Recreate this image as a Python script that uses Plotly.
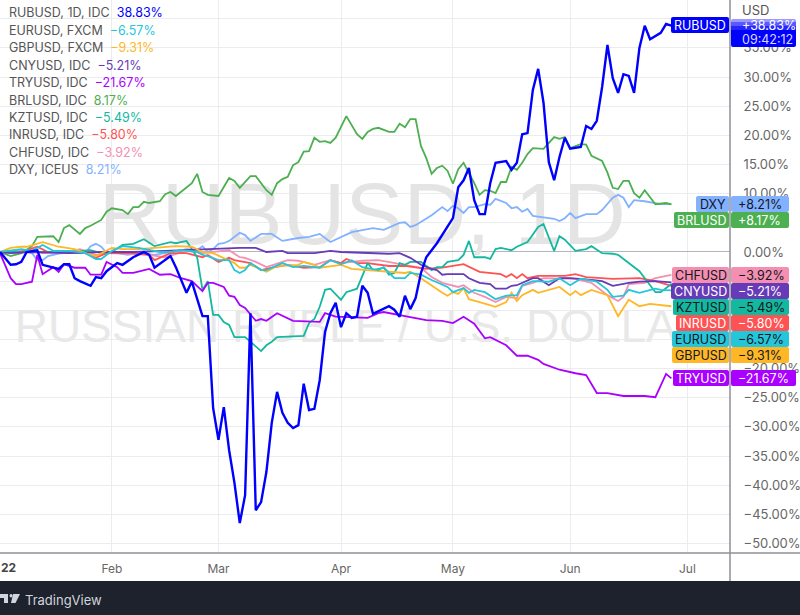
import pandas as pd
import plotly.graph_objects as go

# trading day index -> date (Jan 3 2022 = bar 0)
days = pd.bdate_range("2022-01-03", periods=140)

rub_bars = [0,2,3,4,5,7,8,9,11,12,13,14,15,17,18,19,20,22,23,25,27,28,29,32,33,35,36,38,39,40,41,42,43,44,45,46,47,48,49,50,51,52,53,54,55,56,57,58,59,60,61,62,63,64,65,66,67,68,69,70,73,74,75,76,77,78,79,80,82,85,86,87,88,89,90,91,92,93,95,96,97,98,99,100,101,102,103,104,105,106,107,109,110,111,112,113,114,115,116,117,118,119,120,121,122,124,125,126]
rub_vals = [0,-2.2,-2.1,-1.7,0,0.3,-2.2,-2.4,-2.9,-2.1,-2.1,-4.5,-5.0,-5.8,-4.3,-4.5,-3.3,-1.9,-2.2,-0.9,0,-0.5,-2.7,-0.7,-2.6,-7.0,-5.1,-11.0,-11.0,-26.8,-32.2,-26.6,-34.0,-39.6,-46.5,-41.7,-10.5,-44.3,-42.9,-37.7,-29.3,-24.0,-27.6,-29.3,-30.2,-29.7,-22.6,-27.1,-26.9,-22.0,-13.7,-10.5,-8.7,-12.9,-10.5,-11.3,-11.1,-5.8,-7.0,-10.6,-9.3,-9.9,-11.1,-7.5,-9.8,-7.9,-3.6,-0.9,1.5,5.8,11.1,12.3,14.4,8.9,6.5,6.5,11.8,15.3,15.6,14.1,15.3,20.2,20.4,27.8,31.4,25.6,15.4,12.3,16.3,19.6,17.7,18.0,21.6,21.1,22.5,28.3,35.5,29.8,27.3,30.5,30.2,27.3,35.0,38.8,36.5,37.6,39.1,38.83]

brl_bars = [0,2,4,6,7,8,10,11,12,13,15,16,17,19,20,21,23,24,25,26,27,28,30,31,32,33,36,37,38,39,41,43,44,45,47,48,50,51,52,53,54,55,56,57,58,59,60,61,62,63,65,67,68,69,70,71,73,74,75,76,77,78,79,80,81,82,83,84,85,86,87,89,90,91,92,93,94,95,96,97,98,99,100,102,103,104,105,106,107,108,109,110,111,113,114,115,116,117,118,119,120,121,122,123,125,126]
brl_vals = [0,-0.7,-0.2,1.0,2.6,2.6,2.7,1.7,4.1,4.6,3.1,4.1,4.5,5.5,6.9,7.5,7.2,6.5,7.7,7.7,8.6,8.4,8.7,9.9,10.3,9.6,11.8,13.4,10.3,9.8,9.6,12.7,12.2,11.0,13.0,13.0,10.6,9.8,11.8,12.5,12.9,14.9,15.4,17.2,17.3,19.6,18.9,19.0,18.7,19.6,23.3,20.2,19.4,20.6,21.1,21.3,20.6,20.6,22.0,21.4,22.8,22.8,18.2,16.1,13.4,14.4,14.8,13.9,11.7,14.2,15.3,11.8,9.8,10.6,10.5,10.1,12.0,12.0,14.6,14.1,15.3,16.8,17.8,17.7,18.7,19.7,19.4,19.7,17.8,18.2,18.5,18.4,16.5,15.6,13.6,11.0,10.8,12.2,12.2,10.1,9.3,10.6,9.3,8.2,8.4,8.17]

dxy_bars = [0,4,6,7,8,9,11,12,14,16,17,18,19,20,22,24,26,29,31,32,35,37,38,39,40,41,42,43,45,46,47,49,51,53,56,58,60,62,66,70,72,75,76,77,78,81,83,84,85,86,87,88,89,91,92,93,95,96,97,98,99,100,102,104,105,106,107,108,110,112,113,115,116,117,118,119,121,123,124,126]
dxy_vals = [0,0.3,-0.2,-1.4,-1.4,-0.7,-0.3,-0.2,-0.2,-0.2,1.0,1.4,0.9,-0.2,-0.2,-0.5,-0.2,-0.5,-0.2,0,0.5,0.3,1.0,0,0.5,1.4,1.5,1.9,3.3,2.9,1.9,3.1,3.1,1.9,2.4,2.6,3.1,1.7,3.4,4.1,3.8,5.0,5.1,4.3,4.6,6.3,7.7,7.0,7.9,7.5,6.7,7.7,7.7,8.2,8.1,9.1,8.4,7.5,7.7,6.9,7.4,6.2,6.0,5.7,5.3,5.8,6.7,5.8,6.5,6.5,7.2,9.3,9.8,9.3,7.7,8.9,8.7,8.4,8.2,8.21]

cny_bars = [0,2,6,13,19,25,31,38,41,45,48,50,53,54,59,62,64,69,73,75,77,79,81,82,83,84,87,88,90,92,93,95,96,97,98,100,101,103,105,107,111,113,115,118,120,123,126]
cny_vals = [0,-0.2,0,-0.2,0,0,0.2,0.5,0.5,0.7,0.7,0,0.2,-0.2,-0.2,0.2,0,-0.2,-0.3,-0.2,-1.0,-2.2,-2.9,-3.1,-3.9,-3.8,-3.8,-4.5,-5.3,-5.5,-6.3,-6.3,-5.8,-5.7,-5.3,-4.5,-4.5,-5.7,-4.5,-4.5,-4.8,-5.0,-5.8,-5.3,-5.1,-5.0,-5.21]

try_bars = [0,1,2,3,4,6,7,8,10,11,12,14,16,17,19,20,22,23,25,28,30,32,34,36,38,39,40,42,43,44,45,46,48,49,50,52,55,60,61,63,69,71,72,76,80,83,85,87,89,91,92,95,97,99,101,102,105,108,110,112,114,117,121,123,125,126]
try_vals = [-0.2,-2.2,-4.5,-5.5,-5.5,-5.1,-0.5,-3.8,-2.6,-3.4,-2.1,-2.7,-2.7,-3.9,-3.9,-1.7,-2.6,-3.6,-3.6,-2.9,-3.9,-3.8,-4.5,-5.0,-6.7,-5.3,-5.3,-6.0,-7.5,-7.7,-9.1,-9.6,-11.8,-11.5,-11.8,-10.5,-11.8,-12.0,-10.5,-11.1,-11.3,-10.5,-10.3,-11.0,-11.7,-11.8,-12.2,-11.1,-12.3,-14.8,-14.6,-16.0,-17.8,-17.8,-18.5,-19.2,-20.2,-20.8,-21.1,-24.2,-24.2,-24.7,-24.7,-24.9,-20.9,-21.67]

inr_bars = [0,4,7,9,13,16,18,20,25,28,29,32,35,38,39,41,43,44,47,49,51,54,57,60,62,64,65,67,69,73,76,80,83,87,90,92,94,95,96,97,98,99,101,106,108,110,115,120,123,126]
inr_vals = [0,0,0.9,0,0,-0.2,-1.0,-0.2,-0.2,-0.5,-1.4,-0.2,-0.2,-0.9,-0.5,-1.7,-1.0,-1.4,-1.9,-3.1,-2.7,-2.2,-2.7,-2.6,-1.4,-1.9,-1.2,-1.9,-1.9,-2.4,-2.4,-2.9,-2.7,-2.1,-3.4,-3.6,-3.8,-4.3,-3.8,-4.5,-3.8,-4.5,-4.1,-4.1,-3.8,-4.3,-4.6,-4.5,-5.0,-5.8]

eur_bars = [0,4,6,8,10,13,16,18,19,21,23,26,30,32,34,37,38,39,41,43,44,45,46,47,49,50,53,55,57,60,62,64,66,68,71,72,74,76,77,79,81,84,85,87,88,89,91,93,95,97,98,100,103,105,107,109,112,114,115,117,118,120,123,124,126]
eur_vals = [0,0.5,0.2,1.2,0.2,0.2,-0.2,-1.2,-1.2,0.2,1.0,0.7,0,0,0.3,0,-0.5,-0.7,-1.4,-1.4,-3.1,-3.6,-3.1,-1.9,-3.1,-3.1,-1.9,-2.6,-2.4,-2.7,-1.4,-2.1,-1.4,-2.6,-3.1,-2.6,-4.5,-4.5,-3.6,-3.9,-4.8,-6.0,-6.9,-6.2,-7.0,-6.5,-6.9,-8.1,-7.5,-7.4,-5.7,-5.0,-5.1,-4.5,-5.7,-4.6,-5.1,-6.5,-7.7,-7.5,-6.5,-7.0,-6.3,-6.5,-6.57]

gbp_bars = [0,2,4,5,8,9,11,14,16,18,21,23,26,29,33,36,38,40,42,44,45,46,47,50,52,56,57,59,60,64,66,69,73,76,77,79,83,84,85,86,87,88,90,93,95,96,97,98,100,101,105,107,108,109,111,114,116,118,120,122,126]
gbp_vals = [0,0.7,0.9,0.9,1.7,1.4,0.9,0.5,-0.2,-0.7,0.7,0.5,0.5,0.7,1.0,0.9,0,-0.2,-1.0,-1.9,-2.7,-2.7,-2.2,-3.4,-2.4,-2.2,-1.7,-2.2,-2.7,-2.2,-2.9,-3.1,-3.4,-3.6,-3.4,-4.5,-7.0,-7.5,-6.9,-7.2,-6.2,-8.1,-8.6,-9.4,-8.6,-7.0,-8.4,-7.4,-6.5,-7.0,-6.0,-7.4,-6.7,-7.4,-6.5,-7.4,-11.0,-8.2,-9.3,-8.9,-9.31]

chf_bars = [0,6,8,13,15,18,21,28,31,35,38,40,43,45,46,48,50,54,56,59,62,64,68,71,74,79,81,83,86,87,89,91,93,95,97,98,100,102,108,111,114,116,117,118,121,123,126]
chf_vals = [0,0.3,-0.2,0,0.5,-0.5,-0.2,-0.5,-0.9,0.2,-0.2,0,0.3,-0.9,-1.0,-1.7,-2.6,-1.4,-1.5,-2.2,-1.4,-1.9,-1.5,-1.4,-1.9,-2.7,-4.3,-5.3,-6.0,-5.7,-7.0,-7.7,-8.6,-7.7,-7.9,-5.8,-5.3,-4.5,-4.6,-5.3,-7.4,-8.4,-7.7,-5.5,-5.3,-4.5,-3.92]

kzt_bars = [0,9,13,17,19,21,23,25,27,29,32,33,35,37,38,39,40,41,42,43,44,46,48,49,50,51,52,57,58,59,60,61,62,64,65,67,69,70,72,73,74,75,76,77,79,81,82,83,84,86,87,88,89,91,92,93,94,96,97,99,101,102,104,105,106,108,110,111,113,115,116,118,120,123,124,126]
kzt_vals = [0,0,0,0.3,-0.2,0,1.2,1.4,2.2,1.0,1.7,1.5,1.9,-0.9,-6.5,-5.0,-10.8,-10.8,-12.0,-12.5,-14.6,-14.6,-16.3,-17.0,-16.0,-15.4,-14.6,-14.4,-12.2,-11.5,-9.4,-6.5,-6.3,-8.2,-6.9,-6.3,-1.9,-3.1,-2.7,-3.9,-3.6,-1.9,-2.2,-1.7,-1.7,-3.1,-2.6,-2.6,-1.7,-1.4,-0.5,1.9,-0.9,-0.9,-1.2,0.5,0.7,0.3,0.9,1.7,4.3,4.8,0.2,2.7,2.1,0.2,0.5,1.0,-0.2,-0.3,-0.5,-1.9,-3.3,-6.9,-6.9,-5.49]

series_names = ["DXY", "CHFUSD", "INRUSD", "KZTUSD", "BRLUSD", "TRYUSD", "CNYUSD", "GBPUSD", "EURUSD", "RUBUSD"]
series_bars = [dxy_bars, chf_bars, inr_bars, kzt_bars, brl_bars, try_bars, cny_bars, gbp_bars, eur_bars, rub_bars]
series_vals = [dxy_vals, chf_vals, inr_vals, kzt_vals, brl_vals, try_vals, cny_vals, gbp_vals, eur_vals, rub_vals]
series_colors = ["#82b1ff", "#f48fb1", "#ff5252", "#14b89f", "#4caf50", "#aa00ff", "#673ab7", "#ffb726", "#26c6da", "#0000ff"]

legend_names = ["RUBUSD, 1D, IDC", "EURUSD, FXCM", "GBPUSD, FXCM", "CNYUSD, IDC", "TRYUSD, IDC", "BRLUSD, IDC", "KZTUSD, IDC", "INRUSD, IDC", "CHFUSD, IDC", "DXY, ICEUS"]
legend_pcts = ["38.83%", "−6.57%", "−9.31%", "−5.21%", "−21.67%", "8.17%", "−5.49%", "−5.80%", "−3.92%", "8.21%"]
legend_colors = ["#0000ff", "#26c6da", "#ffb726", "#673ab7", "#aa00ff", "#4caf50", "#14b89f", "#ff5252", "#f48fb1", "#82b1ff"]

tag_names = ["RUBUSD", "DXY", "BRLUSD", "CHFUSD", "CNYUSD", "KZTUSD", "INRUSD", "EURUSD", "GBPUSD", "TRYUSD"]
tag_pcts = ["", "+8.21%", "+8.17%", "−3.92%", "−5.21%", "−5.49%", "−5.80%", "−6.57%", "−9.31%", "−21.67%"]
tag_colors = ["#0000ff", "#82b1ff", "#4caf50", "#f48fb1", "#673ab7", "#14b89f", "#ff5252", "#26c6da", "#ffb726", "#aa00ff"]
tag_text = ["#ffffff", "#131722", "#ffffff", "#131722", "#ffffff", "#131722", "#ffffff", "#131722", "#131722", "#ffffff"]
tag_left = [671, 696, 674, 672, 671, 673, 676, 672, 672, 673]
tag_top = [17, 196, 212, 267, 283, 299, 315, 331, 347, 370]

# the labels the price tags sit on are left blank, only their grid lines show
y_ticks = [40, 35, 30, 25, 20, 15, 10, 5, 0, -5, -10, -15, -20, -25, -30, -35, -40, -45, -50]
y_labels = ["", "35.00%", "30.00%", "25.00%", "20.00%", "15.00%", "10.00%", "", "0.00%", "", "", "", "−20.00%", "−25.00%", "−30.00%", "−35.00%", "−40.00%", "−45.00%", "−50.00%"]
x_ticks = ["2022-02-01", "2022-03-01", "2022-04-01", "2022-05-02", "2022-06-01", "2022-07-01"]
x_labels = ["Feb", "Mar", "Apr", "May", "Jun", "Jul"]

FONT = "Inter, Liberation Sans, sans-serif"
W, H = 730, 553  # plot area in px


def fx(x):
    return x / W


def fy(y):
    return 1 - y / H


def rounded(x0, y0, x1, y1, color, r=2):
    # little rounded box, given in page pixels
    a, b, c, d = fx(x0), fy(y0), fx(x1), fy(y1)
    rx, ry = r / W, r / H
    path = (f"M{a+rx},{b} L{c-rx},{b} Q{c},{b} {c},{b-ry} L{c},{d+ry} Q{c},{d} {c-rx},{d} "
            f"L{a+rx},{d} Q{a},{d} {a},{d+ry} L{a},{b-ry} Q{a},{b} {a+rx},{b} Z")
    return dict(type="path", path=path, xref="paper", yref="paper", fillcolor=color, line_width=0)


def label(x, y, text, color, size=12.5, anchor="left"):
    return dict(x=fx(x), y=fy(y), xref="paper", yref="paper", text=text, showarrow=False,
                xanchor=anchor, yanchor="middle", align=anchor, borderpad=0,
                font=dict(family=FONT, size=size, color=color))


fig = go.Figure()

# watermarks sit under the lines
fig.add_trace(go.Scatter(x=[days[68]], y=[5.1], mode="text", text=["RUBUSD, 1D"], hoverinfo="skip",
                         textfont=dict(family="Liberation Sans", size=87, color="#e4e4e4")))
fig.add_trace(go.Scatter(x=[days[68]], y=[-13.4], mode="text", text=["RUSSIAN RUBLE / U.S. DOLLAR"], hoverinfo="skip",
                         textfont=dict(family="Liberation Sans", size=46, color="#e8e8e8")))

for name, bars, vals, color in zip(series_names, series_bars, series_vals, series_colors):
    fig.add_trace(go.Scatter(x=days[bars], y=vals, mode="lines", name=name,
                             line=dict(color=color, width=2.4 if name == "RUBUSD" else 1.8)))

shapes = []
# footer and frame lines
shapes.append(dict(type="rect", xref="paper", yref="paper", x0=fx(0), x1=fx(800), y0=fy(581), y1=fy(615),
                   fillcolor="#1e222d", line_width=0))
shapes.append(dict(type="line", xref="paper", yref="paper", x0=fx(0), x1=fx(800), y0=fy(553), y1=fy(553),
                   line=dict(color="#8f9197", width=1.5)))
shapes.append(dict(type="line", xref="paper", yref="paper", x0=fx(730), x1=fx(730), y0=fy(0), y1=fy(581),
                   line=dict(color="#8f9197", width=1.5)))
# logo
shapes.append(rounded(0, 594, 8, 598, "#d1d4dc", 0))
shapes.append(rounded(4, 594, 8, 603, "#d1d4dc", 0))
shapes.append(dict(type="circle", xref="paper", yref="paper", x0=fx(9.5), x1=fx(12.5), y0=fy(594), y1=fy(597.5),
                   fillcolor="#d1d4dc", line_width=0))
shapes.append(dict(type="path", xref="paper", yref="paper", fillcolor="#d1d4dc", line_width=0,
                   path=f"M{fx(13)},{fy(594)} L{fx(20)},{fy(594)} L{fx(15.5)},{fy(603)} L{fx(11)},{fy(603)} Z"))

annotations = [label(741, 10, "USD", "#555555", 13)]

for i, (nm, pct, col) in enumerate(zip(legend_names, legend_pcts, legend_colors)):
    y = 13 + i * 17.4
    annotations.append(label(8, y, f'<span style="color:#555555">{nm}</span>  {pct}', col))

for nm, pct, col, txt, left, top in zip(tag_names, tag_pcts, tag_colors, tag_text, tag_left, tag_top):
    bottom = top + 16
    shapes.append(rounded(left, top, 729, bottom, col))
    annotations.append(label((left + 729) / 2, (top + bottom) / 2, nm, txt, 12.5, "center"))
    if pct:
        right = 796 if nm == "TRYUSD" else 789
        shapes.append(rounded(731, top, right, bottom, col))
        annotations.append(label(737, (top + bottom) / 2, pct, txt, 12.5))

# RUB price box with the countdown, the top of it fades out
shapes.append(rounded(731, 19, 796, 47, "#0000ff"))
shapes.append(dict(type="rect", xref="paper", yref="paper", x0=fx(731), x1=fx(796), y0=fy(19), y1=fy(22),
                   fillcolor="rgba(255,255,255,0.6)", line_width=0))
shapes.append(dict(type="rect", xref="paper", yref="paper", x0=fx(731), x1=fx(796), y0=fy(22), y1=fy(26),
                   fillcolor="rgba(255,255,255,0.35)", line_width=0))
shapes.append(dict(type="rect", xref="paper", yref="paper", x0=fx(731), x1=fx(796), y0=fy(26), y1=fy(30),
                   fillcolor="rgba(255,255,255,0.15)", line_width=0))
annotations.append(label(741, 25, "+38.83%", "#ffffff", 12.5))
annotations.append(label(741, 40, "09:42:12", "#d8d8ff", 12.5))

annotations.append(label(0, 567, "<b>22</b>", "#444444", 12))
annotations.append(label(24, 600, "TradingView", "#d1d4dc", 13))

fig.update_layout(
    width=800, height=615, margin=dict(l=0, r=70, t=0, b=62),
    paper_bgcolor="#ffffff", plot_bgcolor="#ffffff", showlegend=False,
    shapes=shapes, annotations=annotations,
    font=dict(family=FONT, color="#555555"),
)
fig.update_xaxes(
    range=[days[0], days[137]], rangebreaks=[dict(bounds=["sat", "mon"])],
    tickmode="array", tickvals=x_ticks, ticktext=x_labels,
    showgrid=True, gridcolor="#ececee", gridwidth=1, zeroline=False, showline=False,
    ticks="outside", ticklen=5, tickcolor="rgba(0,0,0,0)", tickfont=dict(size=12, color="#666666"),
)
fig.update_yaxes(
    side="right", range=[-51.63, 43.22], tickmode="array", tickvals=y_ticks, ticktext=y_labels,
    showgrid=True, gridcolor="#ececee", gridwidth=1,
    zeroline=True, zerolinecolor="#b2b5be", zerolinewidth=1, showline=False,
    ticks="outside", ticklen=10, tickcolor="rgba(0,0,0,0)", tickfont=dict(size=13, color="#666666"),
)

fig.write_html("out.html", config={"displayModeBar": False}, post_script="document.body.style.margin='0';")
